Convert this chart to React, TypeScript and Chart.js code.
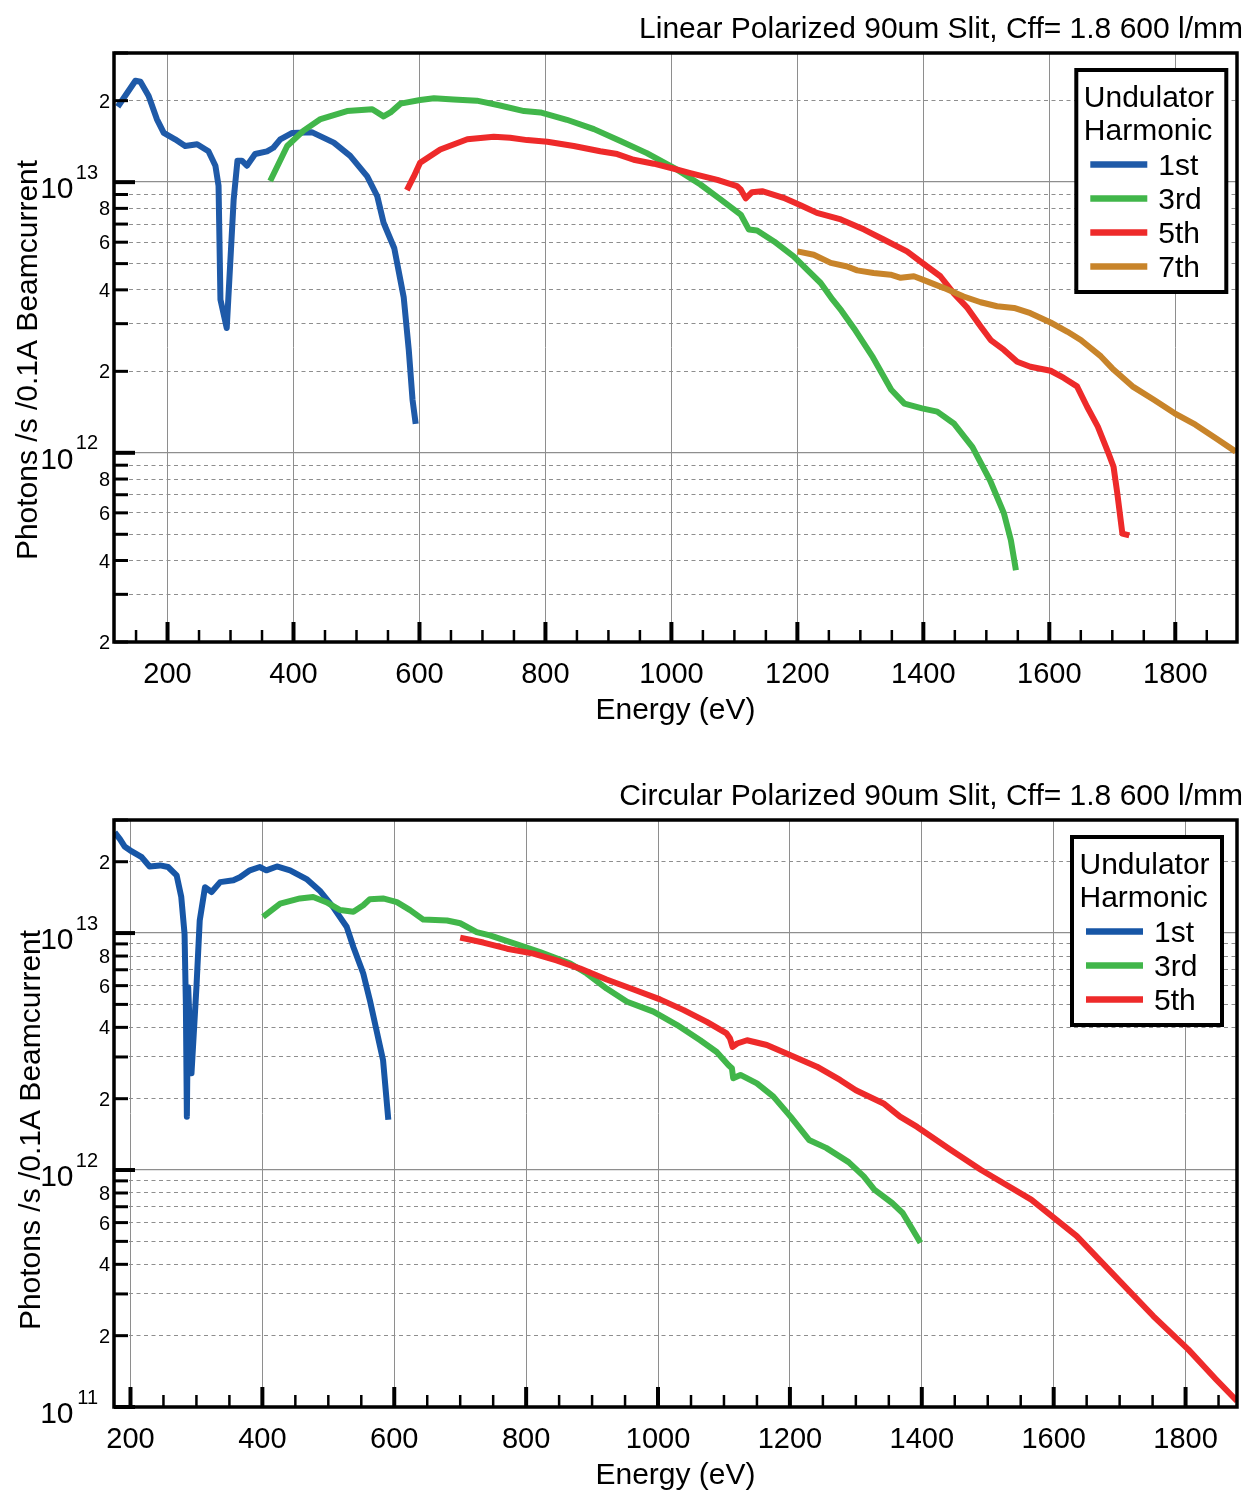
import React, { useEffect, useRef } from 'react';
import { Chart, registerables } from 'chart.js';

Chart.register(...registerables);

const FONT = '"Liberation Sans", Arial, Helvetica, sans-serif';

// ---------- Linear polarized (top) ----------
const linearEnergy1st = [121, 149, 157, 170, 183, 194, 212, 228, 247, 265, 276, 281, 284, 294, 305, 311, 318, 326, 339, 358, 368, 379, 398, 429, 464, 490, 517, 533, 543, 560, 575, 583, 589, 594];
const linearFlux1st = [1.90e13, 2.37e13, 2.35e13, 2.08e13, 1.71e13, 1.52e13, 1.44e13, 1.36e13, 1.38e13, 1.30e13, 1.15e13, 9.7e12, 3.68e12, 2.89e12, 8.63e12, 1.20e13, 1.20e13, 1.15e13, 1.27e13, 1.30e13, 1.34e13, 1.44e13, 1.52e13, 1.53e13, 1.40e13, 1.25e13, 1.05e13, 8.87e12, 7.08e12, 5.70e12, 3.75e12, 2.40e12, 1.57e12, 1.28e12];

const linearEnergy3rd = [363, 390, 416, 443, 485, 525, 543, 554, 570, 601, 623, 654, 691, 728, 766, 792, 834, 877, 919, 961, 1004, 1046, 1078, 1110, 1123, 1136, 1163, 1194, 1237, 1256, 1270, 1290, 1320, 1349, 1370, 1398, 1422, 1449, 1478, 1506, 1528, 1539, 1547];
const linearFlux3rd = [1.01e13, 1.36e13, 1.55e13, 1.71e13, 1.83e13, 1.86e13, 1.75e13, 1.81e13, 1.95e13, 2.01e13, 2.04e13, 2.02e13, 2.00e13, 1.92e13, 1.83e13, 1.81e13, 1.70e13, 1.57e13, 1.42e13, 1.28e13, 1.13e13, 9.80e12, 8.63e12, 7.59e12, 6.68e12, 6.63e12, 6.04e12, 5.32e12, 4.24e12, 3.68e12, 3.35e12, 2.88e12, 2.25e12, 1.71e12, 1.52e12, 1.46e12, 1.42e12, 1.28e12, 1.05e12, 7.9e11, 5.97e11, 4.75e11, 3.68e11];

const linearEnergy5th = [580, 591, 601, 633, 676, 718, 744, 771, 803, 845, 887, 914, 940, 972, 998, 1030, 1073, 1104, 1110, 1118, 1128, 1144, 1178, 1205, 1231, 1269, 1306, 1337, 1374, 1406, 1427, 1448, 1470, 1491, 1507, 1528, 1549, 1570, 1602, 1623, 1644, 1660, 1677, 1694, 1702, 1708, 1716, 1727];
const linearFlux5th = [9.34e12, 1.05e13, 1.18e13, 1.32e13, 1.44e13, 1.47e13, 1.46e13, 1.43e13, 1.41e13, 1.36e13, 1.30e13, 1.27e13, 1.21e13, 1.17e13, 1.13e13, 1.08e13, 1.02e13, 9.67e12, 9.40e12, 8.71e12, 9.18e12, 9.26e12, 8.75e12, 8.22e12, 7.70e12, 7.28e12, 6.68e12, 6.14e12, 5.55e12, 4.88e12, 4.49e12, 3.89e12, 3.43e12, 2.93e12, 2.61e12, 2.40e12, 2.17e12, 2.08e12, 2.01e12, 1.89e12, 1.76e12, 1.48e12, 1.25e12, 9.95e11, 8.88e11, 7.07e11, 5.03e11, 4.95e11];

const linearEnergy7th = [1200, 1226, 1253, 1279, 1295, 1321, 1348, 1364, 1385, 1406, 1433, 1464, 1491, 1517, 1544, 1570, 1602, 1629, 1650, 1682, 1700, 1732, 1766, 1799, 1832, 1865, 1896];
const linearFlux7th = [5.55e12, 5.39e12, 5.03e12, 4.88e12, 4.72e12, 4.62e12, 4.55e12, 4.43e12, 4.49e12, 4.30e12, 4.06e12, 3.78e12, 3.60e12, 3.48e12, 3.43e12, 3.28e12, 3.03e12, 2.80e12, 2.61e12, 2.27e12, 2.05e12, 1.76e12, 1.57e12, 1.40e12, 1.27e12, 1.13e12, 1.01e12];

// ---------- Circular polarized (bottom) ----------
const circularEnergy1st = [176, 184, 191, 202, 217, 229, 245, 257, 270, 277, 282, 284, 285.5, 287.5, 292.5, 300, 305, 313, 323, 336, 356, 366, 381, 396, 406, 422, 442, 467, 487, 507, 528, 538, 553, 563, 573, 583, 591];
const circularFlux1st = [2.66e13, 2.49e13, 2.32e13, 2.21e13, 2.09e13, 1.91e13, 1.93e13, 1.90e13, 1.75e13, 1.42e13, 9.9e12, 5.0e12, 1.68e12, 5.9e12, 2.56e12, 5.9e12, 1.13e13, 1.56e13, 1.49e13, 1.64e13, 1.67e13, 1.72e13, 1.84e13, 1.90e13, 1.84e13, 1.91e13, 1.84e13, 1.69e13, 1.51e13, 1.29e13, 1.06e13, 8.73e12, 6.75e12, 5.21e12, 3.89e12, 2.91e12, 1.63e12];

const circularEnergy3rd = [401, 427, 457, 477, 497, 518, 538, 553, 563, 583, 604, 624, 644, 680, 700, 725, 745, 776, 821, 867, 892, 922, 953, 993, 1029, 1064, 1089, 1107, 1112, 1114, 1125, 1150, 1175, 1201, 1229, 1255, 1289, 1312, 1328, 1355, 1371, 1386, 1398];
const circularFlux3rd = [1.17e13, 1.33e13, 1.40e13, 1.42e13, 1.35e13, 1.25e13, 1.23e13, 1.31e13, 1.39e13, 1.40e13, 1.35e13, 1.25e13, 1.14e13, 1.13e13, 1.10e13, 1.01e13, 9.78e12, 9.16e12, 8.32e12, 7.43e12, 6.75e12, 5.83e12, 5.13e12, 4.66e12, 4.09e12, 3.53e12, 3.15e12, 2.77e12, 2.69e12, 2.44e12, 2.52e12, 2.32e12, 2.04e12, 1.68e12, 1.34e12, 1.24e12, 1.08e12, 9.4e11, 8.26e11, 7.26e11, 6.59e11, 5.61e11, 4.93e11];

const circularEnergy5th = [700, 735, 771, 811, 846, 882, 922, 963, 1003, 1039, 1074, 1104, 1109, 1113, 1120, 1135, 1165, 1201, 1241, 1276, 1300, 1342, 1367, 1393, 1443, 1490, 1566, 1635, 1698, 1751, 1804, 1846, 1878];
const circularFlux5th = [9.57e12, 9.12e12, 8.59e12, 8.19e12, 7.67e12, 7.08e12, 6.37e12, 5.78e12, 5.25e12, 4.73e12, 4.22e12, 3.77e12, 3.60e12, 3.31e12, 3.42e12, 3.53e12, 3.37e12, 3.05e12, 2.73e12, 2.40e12, 2.17e12, 1.91e12, 1.68e12, 1.52e12, 1.22e12, 1.00e12, 7.50e11, 5.26e11, 3.45e11, 2.42e11, 1.75e11, 1.31e11, 1.06e11];

// ---------- Labels and ticks ----------
const harmonicLabels = ['1st', '3rd', '5th', '7th'];
const harmonicColors = ['#1f5aa8', '#41b64a', '#ee2a2a', '#c8842a'];
const energyTickLabels = [200, 400, 600, 800, 1000, 1200, 1400, 1600, 1800];
const fluxMantissas = [1, 2, 3, 4, 5, 6, 7, 8, 9];
const labeledMantissas = [1, 2, 4, 6, 8];
const legendHeading = ['Undulator', 'Harmonic'];
const xAxisTitle = 'Energy (eV)';
const yAxisTitle = 'Photons /s /0.1A Beamcurrent';
const linearTitle = 'Linear Polarized 90um Slit, Cff= 1.8 600 l/mm';
const circularTitle = 'Circular Polarized 90um Slit, Cff= 1.8 600 l/mm';

function exponentOf(v: number) {
  return Math.floor(Math.log10(v) + 1e-9);
}
function mantissaOf(v: number) {
  return Math.round(v / Math.pow(10, exponentOf(v)));
}

const linearSpec = {
  series: [
    { label: harmonicLabels[0], color: harmonicColors[0], energy: linearEnergy1st, flux: linearFlux1st },
    { label: harmonicLabels[1], color: harmonicColors[1], energy: linearEnergy3rd, flux: linearFlux3rd },
    { label: harmonicLabels[2], color: harmonicColors[2], energy: linearEnergy5th, flux: linearFlux5th },
    { label: harmonicLabels[3], color: harmonicColors[3], energy: linearEnergy7th, flux: linearFlux7th },
  ],
  title: linearTitle,
  xMin: 115, xMax: 1898,
  yMin: 2e11, yMax: 3e13, decades: [11, 12, 13],
  padTop: 53, xAxisHeight: 103,
  titleBaseline: 38,
  yTitleX: 37, yTitleY: 360,
  legendLeft: 1076.3, legendTop: 70,
};

const circularSpec = {
  series: [
    { label: harmonicLabels[0], color: '#1756a6', energy: circularEnergy1st, flux: circularFlux1st },
    { label: harmonicLabels[1], color: harmonicColors[1], energy: circularEnergy3rd, flux: circularFlux3rd },
    { label: harmonicLabels[2], color: harmonicColors[2], energy: circularEnergy5th, flux: circularFlux5th },
  ],
  title: circularTitle,
  xMin: 175, xMax: 1878,
  yMin: 1e11, yMax: 3e13, decades: [11, 12, 13],
  padTop: 75, xAxisHeight: 83,
  titleBaseline: 60,
  yTitleX: 39.5, yTitleY: 385,
  legendLeft: 1072, legendTop: 92,
};

function decorPlugin(spec: any) {
  return {
    id: 'undulatorDecor',
    afterDraw(chart: any) {
      const ctx = chart.ctx;
      const ca = chart.chartArea;
      const xs = chart.scales.x;
      const ys = chart.scales.y;
      ctx.save();
      ctx.fillStyle = '#000';
      ctx.strokeStyle = '#000';
      ctx.lineCap = 'butt';

      // x tick marks (inside)
      for (let v = Math.ceil(spec.xMin / 50) * 50; v <= spec.xMax; v += 50) {
        const major = v % 200 === 0;
        const px = xs.getPixelForValue(v);
        ctx.lineWidth = major ? 4 : 2.5;
        ctx.beginPath();
        ctx.moveTo(px, ca.bottom);
        ctx.lineTo(px, ca.bottom - (major ? 20 : 12));
        ctx.stroke();
      }

      // y tick marks and labels
      for (const t of ys.ticks) {
        const v = t.value;
        const m = mantissaOf(v);
        const py = ys.getPixelForValue(v);
        const major = m === 1;
        ctx.lineWidth = major ? 4 : 3;
        ctx.beginPath();
        ctx.moveTo(ca.left, py);
        ctx.lineTo(ca.left + (major ? 21 : 14), py);
        ctx.stroke();
        ctx.textAlign = 'right';
        ctx.textBaseline = 'alphabetic';
        if (major) {
          ctx.font = `30px ${FONT}`;
          ctx.fillText('10', 73.5, py + 16);
          ctx.font = `20px ${FONT}`;
          ctx.fillText(String(exponentOf(v)), 98, py - 3.5);
        } else if (labeledMantissas.includes(m)) {
          ctx.font = `20px ${FONT}`;
          ctx.fillText(String(m), 110, py + 7);
        }
      }

      // frame
      ctx.lineWidth = 3.5;
      ctx.strokeRect(ca.left, ca.top, ca.right - ca.left, ca.bottom - ca.top);

      // x tick labels
      ctx.textAlign = 'center';
      ctx.textBaseline = 'alphabetic';
      ctx.font = `29px ${FONT}`;
      for (const v of energyTickLabels) {
        if (v < spec.xMin || v > spec.xMax) continue;
        ctx.fillText(String(v), xs.getPixelForValue(v), ca.bottom + 41);
      }

      // axis titles
      ctx.font = `30px ${FONT}`;
      ctx.fillText(xAxisTitle, (ca.left + ca.right) / 2, ca.bottom + 76.5);
      ctx.save();
      ctx.translate(spec.yTitleX, spec.yTitleY);
      ctx.rotate(-Math.PI / 2);
      ctx.fillText(yAxisTitle, 0, 0);
      ctx.restore();

      // chart title
      ctx.textAlign = 'right';
      ctx.fillText(spec.title, 1243, spec.titleBaseline);

      // legend
      const n = chart.data.datasets.length;
      const lx = spec.legendLeft;
      const ly = spec.legendTop;
      const lw = 150;
      const lh = 86 + 34 * n;
      ctx.fillStyle = '#fff';
      ctx.fillRect(lx, ly, lw, lh);
      ctx.lineWidth = 4;
      ctx.strokeStyle = '#000';
      ctx.strokeRect(lx, ly, lw, lh);
      ctx.fillStyle = '#000';
      ctx.textAlign = 'left';
      ctx.font = `30px ${FONT}`;
      ctx.fillText(legendHeading[0], lx + 7.5, ly + 36.5);
      ctx.fillText(legendHeading[1], lx + 7.5, ly + 69.5);
      chart.data.datasets.forEach((ds: any, i: number) => {
        const y = ly + 94.5 + 34 * i;
        ctx.strokeStyle = ds.borderColor;
        ctx.lineWidth = 6.5;
        ctx.beginPath();
        ctx.moveTo(lx + 14, y);
        ctx.lineTo(lx + 71, y);
        ctx.stroke();
        ctx.fillStyle = '#000';
        ctx.fillText(ds.label, lx + 82, ly + 104.5 + 34 * i);
      });
      ctx.restore();
    },
  };
}

function buildConfig(spec: any) {
  const yTicks: number[] = [];
  for (const e of spec.decades) {
    for (const m of fluxMantissas) {
      const v = m * Math.pow(10, e);
      if (v >= spec.yMin * 0.999 && v <= spec.yMax * 1.001) yTicks.push(v);
    }
  }
  const xTicks = energyTickLabels.filter((v) => v >= spec.xMin && v <= spec.xMax);
  const n = spec.series.length;
  return {
    type: 'line',
    data: {
      datasets: spec.series.map((s: any, i: number) => ({
        label: s.label,
        data: s.energy.map((x: number, j: number) => ({ x, y: s.flux[j] })),
        borderColor: s.color,
        backgroundColor: s.color,
        borderWidth: 6,
        pointRadius: 0,
        tension: 0,
        fill: false,
        borderCapStyle: 'butt',
        borderJoinStyle: 'round',
        order: n - i,
      })),
    },
    options: {
      responsive: false,
      animation: false,
      devicePixelRatio: 1,
      events: [],
      layout: { padding: { left: 0, top: spec.padTop, right: 9, bottom: 0 } },
      plugins: {
        legend: { display: false },
        title: { display: false },
        tooltip: { enabled: false },
      },
      scales: {
        x: {
          type: 'linear',
          min: spec.xMin,
          max: spec.xMax,
          ticks: { display: false },
          afterBuildTicks: (sc: any) => {
            sc.ticks = xTicks.map((v) => ({ value: v }));
          },
          afterFit: (sc: any) => {
            sc.height = spec.xAxisHeight;
          },
          grid: { drawTicks: false, color: '#8e8e8e', lineWidth: 1 },
          border: { display: false },
        },
        y: {
          type: 'logarithmic',
          min: spec.yMin,
          max: spec.yMax,
          ticks: { display: false },
          afterBuildTicks: (sc: any) => {
            sc.ticks = yTicks.map((v) => ({ value: v }));
          },
          afterFit: (sc: any) => {
            sc.width = 114;
          },
          grid: {
            drawTicks: false,
            color: '#8e8e8e',
            lineWidth: (c: any) => (c.tick && mantissaOf(c.tick.value) === 1 ? 1.3 : 1),
          },
          border: {
            display: false,
            dash: (c: any) => (c.tick && mantissaOf(c.tick.value) === 1 ? [] : [4, 3.5]),
          },
        },
      },
    },
    plugins: [decorPlugin(spec)],
  };
}

function PlotCanvas({ spec }: { spec: any }) {
  const ref = useRef<HTMLCanvasElement | null>(null);
  useEffect(() => {
    if (!ref.current) return;
    const chart = new Chart(ref.current, buildConfig(spec) as any);
    return () => chart.destroy();
  }, [spec]);
  return <canvas ref={ref} width={1246} height={745} style={{ display: 'block', width: 1246, height: 745 }} />;
}

export default function App() {
  return (
    <div style={{ position: 'absolute', left: 0, top: 0, width: 1246, height: 1490, background: '#fff' }}>
      <PlotCanvas spec={linearSpec} />
      <PlotCanvas spec={circularSpec} />
    </div>
  );
}
